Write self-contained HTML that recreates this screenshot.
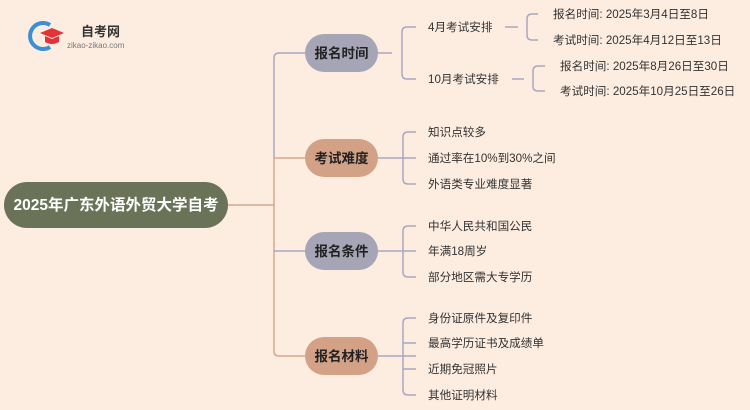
<!DOCTYPE html>
<html><head><meta charset="utf-8"><style>
body{margin:0;width:750px;height:410px;background:#fdede1;overflow:hidden;font-family:"Liberation Sans","Noto Sans CJK SC",sans-serif}
svg{position:absolute;left:0;top:0}
</style></head><body>
<svg width="750" height="410" viewBox="0 0 750 410" font-family="Liberation Sans, Noto Sans CJK SC, sans-serif">
<g fill="none" stroke-width="1.5">
<path d="M228 205 H274" stroke="#d9a68c"/>
<path d="M305 53 H279 Q274 53 274 58 V158" stroke="#a9a8c2"/>
<path d="M274 158 V351 Q274 356 279 356 H305 M274 158 H305" stroke="#d9a68c"/>
<path d="M274 251 H305" stroke="#a9a8c2"/>
<g stroke="#a9a8c2">
<path d="M378 53 H392 M416 27 H407 Q402 27 402 32 V74 Q402 79 407 79 H416"/>
<path d="M505 27 H518 M538 14 H532 Q527 14 527 19 V35 Q527 40 532 40 H538"/>
<path d="M512 79 H524 M545 66 H538 Q533 66 533 71 V86 Q533 91 538 91 H545"/>
<path d="M378 158 H416 M416 132 H408 Q403 132 403 137 V179 Q403 184 408 184 H416"/>
<path d="M378 251 H416 M416 226 H408 Q403 226 403 231 V272 Q403 277 408 277 H416"/>
<path d="M378 356 H416 M416 318 H408 Q403 318 403 323 V390 Q403 395 408 395 H416 M403 343 H416 M403 369 H416"/>
</g>
</g>
<rect x="4" y="182" width="224" height="46" rx="23" fill="#6a7358"/>
<text x="116" y="210" fill="#fff" font-size="15.5" font-weight="bold" text-anchor="middle">2025年广东外语外贸大学自考</text>
<rect x="305" y="34" width="73" height="38" rx="19" fill="#a6a5b6"/>
<rect x="305" y="139" width="73" height="38" rx="19" fill="#d3a286"/>
<rect x="305" y="232" width="73" height="38" rx="19" fill="#a6a5b6"/>
<rect x="305" y="337" width="73" height="38" rx="19" fill="#d3a286"/>
<g font-size="13.5" font-weight="bold" fill="#222" text-anchor="middle">
<text x="341.5" y="58">报名时间</text><text x="341.5" y="163">考试难度</text><text x="341.5" y="256">报名条件</text><text x="341.5" y="361">报名材料</text>
</g>
<g font-size="11.6" fill="#333">
<text x="428" y="31">4月考试安排</text><text x="428" y="83">10月考试安排</text>
<text x="553" y="18">报名时间: 2025年3月4日至8日</text>
<text x="553" y="44">考试时间: 2025年4月12日至13日</text>
<text x="560" y="70">报名时间: 2025年8月26日至30日</text>
<text x="560" y="95">考试时间: 2025年10月25日至26日</text>
<text x="428" y="136">知识点较多</text><text x="428" y="162">通过率在10%到30%之间</text><text x="428" y="188">外语类专业难度显著</text>
<text x="428" y="230">中华人民共和国公民</text><text x="428" y="255">年满18周岁</text><text x="428" y="281">部分地区需大专学历</text>
<text x="428" y="322">身份证原件及复印件</text><text x="428" y="347">最高学历证书及成绩单</text><text x="428" y="373">近期免冠照片</text><text x="428" y="399">其他证明材料</text>
</g>
<path d="M50 25 A13 13 0 1 0 50 47" fill="none" stroke="#3a8fd6" stroke-width="4"/>
<path d="M40 33 L52 28 L64 33 L52 38 Z" fill="#e0343a"/>
<path d="M45 36 V42 Q52 46 59 42 V36 L52 39 Z" fill="#e0343a"/>
<text x="81" y="36" font-size="13" font-weight="bold" fill="#333">自考网</text>
<text x="67" y="48" font-size="8" fill="#777">zikao-zikao.com</text>
</svg>
</body></html>
